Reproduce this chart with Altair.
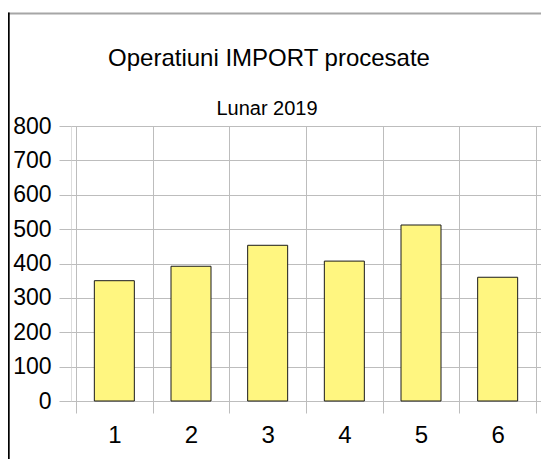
import altair as alt
import pandas as pd

months = [1, 2, 3, 4, 5, 6]
values = [350, 392, 453, 407, 512, 360]
title_text = "Operatiuni IMPORT procesate"
subtitle_text = "Lunar 2019"

df = pd.DataFrame({"month": months, "value": values})

FONT = "Liberation Sans"
GRID = "#bdbdbd"

bars = alt.Chart(df).mark_bar(size=40, color="#fff680", stroke="#1a1a1a", strokeWidth=1).encode(
    x=alt.X("month:Q",
            scale=alt.Scale(domain=[0.5, 6.5], nice=False, zero=False),
            axis=alt.Axis(
                values=[0.5, 1, 1.5, 2, 2.5, 3, 3.5, 4, 4.5, 5, 5.5, 6, 6.5],
                title=None, domain=False, grid=True, gridColor=GRID,
                gridOpacity={"condition": {"test": "datum.value % 1 === 0", "value": 0}, "value": 1},
                tickOpacity={"condition": {"test": "datum.value % 1 === 0", "value": 0}, "value": 1},
                tickColor=GRID, tickSize=12,
                labelExpr="datum.value % 1 === 0 ? format(datum.value, 'd') : ''",
                labelFont=FONT, labelFontSize=24, labelColor="#000000",
                labelPadding=10, labelFlush=False, labelOverlap=False,
            )),
    y=alt.Y("value:Q",
            scale=alt.Scale(domain=[0, 800], nice=False),
            axis=alt.Axis(
                values=[0, 100, 200, 300, 400, 500, 600, 700, 800],
                title=None, domain=False, grid=True, gridColor=GRID,
                tickColor=GRID, tickSize=12,
                labelFont=FONT, labelFontSize=23, labelColor="#000000",
                labelPadding=8, labelFlush=False, labelOverlap=False,
            )),
)

one = alt.Data(values=[{"a": 1}])
top_line = alt.Chart(one).mark_rule(color="#a6a6a6", strokeWidth=2).encode(
    x=alt.value(-70), x2=alt.value(480), y=alt.value(-112.5)
)
left_line = alt.Chart(one).mark_rule(color="#000000", strokeWidth=2).encode(
    x=alt.value(-62.3), y=alt.value(-113.5), y2=alt.value(360)
)
title = alt.Chart(one).mark_text(font=FONT, fontSize=24, color="#000000", align="center",
                                  baseline="alphabetic").encode(
    x=alt.value(198), y=alt.value(-60), text=alt.value(title_text)
)
subtitle = alt.Chart(one).mark_text(font=FONT, fontSize=20, color="#000000", align="center",
                                     baseline="alphabetic").encode(
    x=alt.value(196), y=alt.value(-11), text=alt.value(subtitle_text)
)

chart = alt.layer(bars, top_line, left_line, title, subtitle).properties(
    width=470,
    height=275,
    autosize=alt.AutoSizeParams(type="none"),
    padding={"left": 63, "top": 118, "right": 0, "bottom": 60},
).configure_view(stroke=GRID, strokeWidth=1).configure(background="#ffffff")

chart.save("out.html", embed_options={"renderer": "svg", "actions": False})
